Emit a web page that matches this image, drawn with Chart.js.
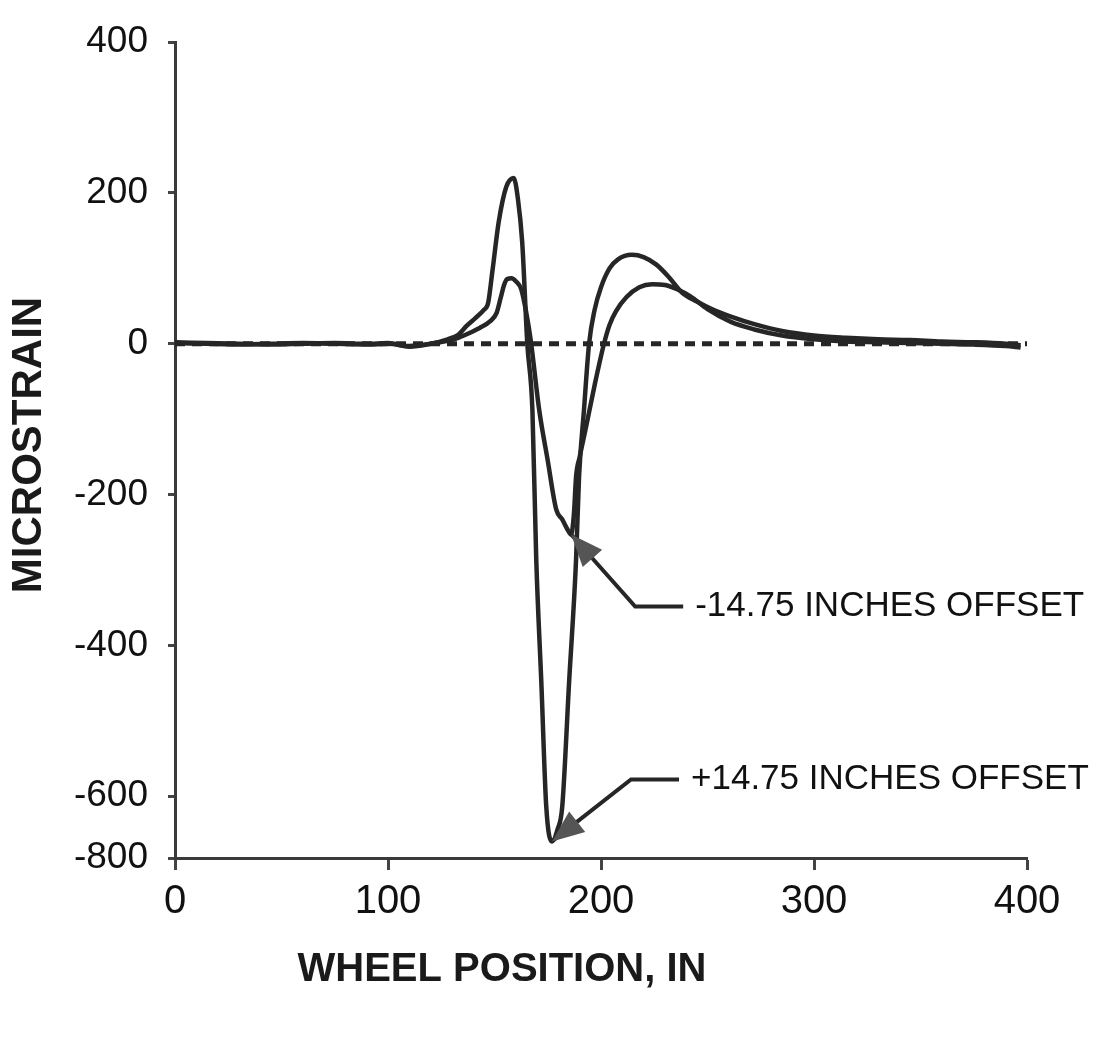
<!DOCTYPE html>
<html lang="en">
<head>
  <meta charset="UTF-8" />
  <title>Microstrain vs Wheel Position</title>
  <script src="https://cdn.jsdelivr.net/npm/chart.js"></script>
  <style>
    * { margin: 0; padding: 0; box-sizing: border-box; }
    body { background: #fff; }
    canvas { display: block; }
  </style>
</head>
<body>
  <canvas id="strainChart" width="1099" height="1047"></canvas>

  <script>
    // tick values / labels
    const xTicks = [0, 100, 200, 300, 400];
    const yTicks = [400, 200, 0, -200, -400, -600];
    // the printed axis is squeezed below -600: its bottom edge carries the -800 label
    const yBottom = -682;
    const yBottomLabel = '-800';

    // +14.75 inches offset
    const plusPos = [0, 15, 30, 45, 60, 75, 90, 100, 110, 120, 128, 133, 137, 141, 145, 147, 149, 152, 155.5, 159,
      161, 163, 165.4, 167.8, 169.6, 172, 174.3, 177, 179.5, 181.8, 185, 188.3, 189.7, 192, 194.4, 197, 200, 204,
      208, 214.5, 220, 226, 232, 238, 245, 252, 261, 272, 285, 300, 315, 330, 345, 360, 375, 390, 397];
    const plusStrain = [2, 1, 0, -1, 0, 1, 0, 1, -4, 0, 6, 12, 24, 34, 45, 54, 96, 162, 208, 220,
      192, 135, 0, -88, -286, -450, -614, -660, -645, -614, -450, -286, -176, -88, 0, 45, 75, 100,
      112, 118, 115, 105, 88, 68, 56, 46, 36, 26, 17, 11, 8, 6, 5, 3, 2, 0, -2];

    // -14.75 inches offset
    const minusPos = [0, 15, 30, 45, 60, 75, 90, 100, 110, 120, 128, 133, 138, 143, 148, 151, 153, 154.5, 156, 158,
      160, 162.6, 165, 167, 171, 175, 179, 181.8, 184, 186, 187.3, 188.3, 190, 193, 197, 201.4, 204, 207, 212,
      218, 224, 230, 236, 242, 250, 261, 272, 285, 300, 315, 330, 345, 360, 375, 390, 397];
    const minusStrain = [1, 0, -1, 0, 1, 0, -1, 0, -3, 0, 4, 8, 14, 21, 30, 41, 62, 78, 86, 87,
      83, 72, 40, 5, -88, -155, -220, -233, -245, -253, -225, -176, -150, -110, -55, 0, 25, 43, 62,
      75, 79, 78, 72, 63, 46, 29, 19, 11, 6, 3, 2, 1, 0, -1, -3, -5];

    const seriesLabels = ['+14.75 INCHES OFFSET', '-14.75 INCHES OFFSET'];

    const ink = '#262626';
    const toPoints = (xs, ys) => xs.map((v, i) => ({ x: v, y: ys[i] }));

    // arrow callouts, pointing at each curve's trough
    const callouts = [
      { text: seriesLabels[0], xs: plusPos, ys: plusStrain, elbow: [79, -62] },
      { text: seriesLabels[1], xs: minusPos, ys: minusStrain, elbow: [64, 72] }
    ];

    const calloutPlugin = {
      id: 'callouts',
      afterDatasetsDraw(chart) {
        const { ctx, scales: { x, y } } = chart;
        ctx.save();
        callouts.forEach(c => {
          let k = 0;
          c.ys.forEach((v, i) => { if (v < c.ys[k]) k = i; });
          const tx = x.getPixelForValue(c.xs[k]);
          const ty = y.getPixelForValue(c.ys[k]);
          const ex = tx + c.elbow[0], ey = ty + c.elbow[1];

          ctx.strokeStyle = ink;
          ctx.lineWidth = 4;
          ctx.beginPath();
          ctx.moveTo(tx, ty);
          ctx.lineTo(ex, ey);
          ctx.lineTo(ex + 48, ey);
          ctx.stroke();

          // arrow head
          const a = Math.atan2(ey - ty, ex - tx);
          const len = 32, half = 13;
          ctx.fillStyle = '#555';
          ctx.beginPath();
          ctx.moveTo(tx, ty);
          ctx.lineTo(tx + len * Math.cos(a) - half * Math.sin(a), ty + len * Math.sin(a) + half * Math.cos(a));
          ctx.lineTo(tx + len * Math.cos(a) + half * Math.sin(a), ty + len * Math.sin(a) - half * Math.cos(a));
          ctx.closePath();
          ctx.fill();

          ctx.fillStyle = '#111';
          ctx.font = '35px "Liberation Sans", Arial, sans-serif';
          ctx.textAlign = 'left';
          ctx.textBaseline = 'middle';
          ctx.fillText(c.text, ex + 60, ey);
        });

        // axis titles
        ctx.fillStyle = '#1a1a1a';
        ctx.font = 'bold 40px "Liberation Sans", Arial, sans-serif';
        ctx.textAlign = 'center';
        ctx.textBaseline = 'middle';
        ctx.fillText('WHEEL POSITION, IN', 502, 970);
        ctx.font = 'bold 42px "Liberation Sans", Arial, sans-serif';
        ctx.translate(29, 445);
        ctx.rotate(-Math.PI / 2);
        ctx.fillText('MICROSTRAIN', 0, 0);
        ctx.restore();
      }
    };

    Chart.defaults.font.family = '"Liberation Sans", Arial, sans-serif';
    Chart.defaults.color = '#111';

    new Chart(document.getElementById('strainChart'), {
      type: 'scatter',
      data: {
        datasets: [
          {
            label: seriesLabels[0],
            data: toPoints(plusPos, plusStrain),
            showLine: true,
            borderColor: ink,
            borderWidth: 4.5,
            pointRadius: 0,
            cubicInterpolationMode: 'monotone',
            order: 1
          },
          {
            label: seriesLabels[1],
            data: toPoints(minusPos, minusStrain),
            showLine: true,
            borderColor: ink,
            borderWidth: 4.5,
            pointRadius: 0,
            cubicInterpolationMode: 'monotone',
            order: 2
          },
          {
            label: 'zero',
            data: [{ x: 0, y: 0 }, { x: 400, y: 0 }],
            showLine: true,
            borderColor: ink,
            borderWidth: 5,
            borderDash: [10, 7],
            pointRadius: 0,
            order: 3
          }
        ]
      },
      options: {
        responsive: false,
        devicePixelRatio: 1,
        animation: false,
        layout: { autoPadding: false, padding: { left: 0, top: 25, right: 72, bottom: 0 } },
        plugins: {
          legend: { display: false },
          tooltip: { enabled: false }
        },
        scales: {
          x: {
            type: 'linear',
            min: 0,
            max: 400,
            afterBuildTicks: s => { s.ticks = xTicks.map(v => ({ value: v })); },
            afterFit: s => { s.height = 189; },
            grid: { drawOnChartArea: false, tickLength: 12, tickWidth: 3, tickColor: '#444' },
            border: { color: '#3a3a3a', width: 3 },
            ticks: { font: { size: 40 }, padding: 8, maxRotation: 0 }
          },
          y: {
            type: 'linear',
            min: yBottom,
            max: 400,
            afterBuildTicks: s => {
              s.ticks = yTicks.map(v => ({ value: v })).concat([{ value: yBottom }]);
            },
            afterFit: s => { s.width = 175; },
            grid: { drawOnChartArea: false, tickLength: 7, tickWidth: 3, tickColor: '#444' },
            border: { color: '#3a3a3a', width: 3 },
            ticks: {
              font: { size: 37 },
              padding: 20,
              callback: v => (v === yBottom ? yBottomLabel : String(v))
            }
          }
        }
      },
      plugins: [calloutPlugin]
    });
  </script>
</body>
</html>
